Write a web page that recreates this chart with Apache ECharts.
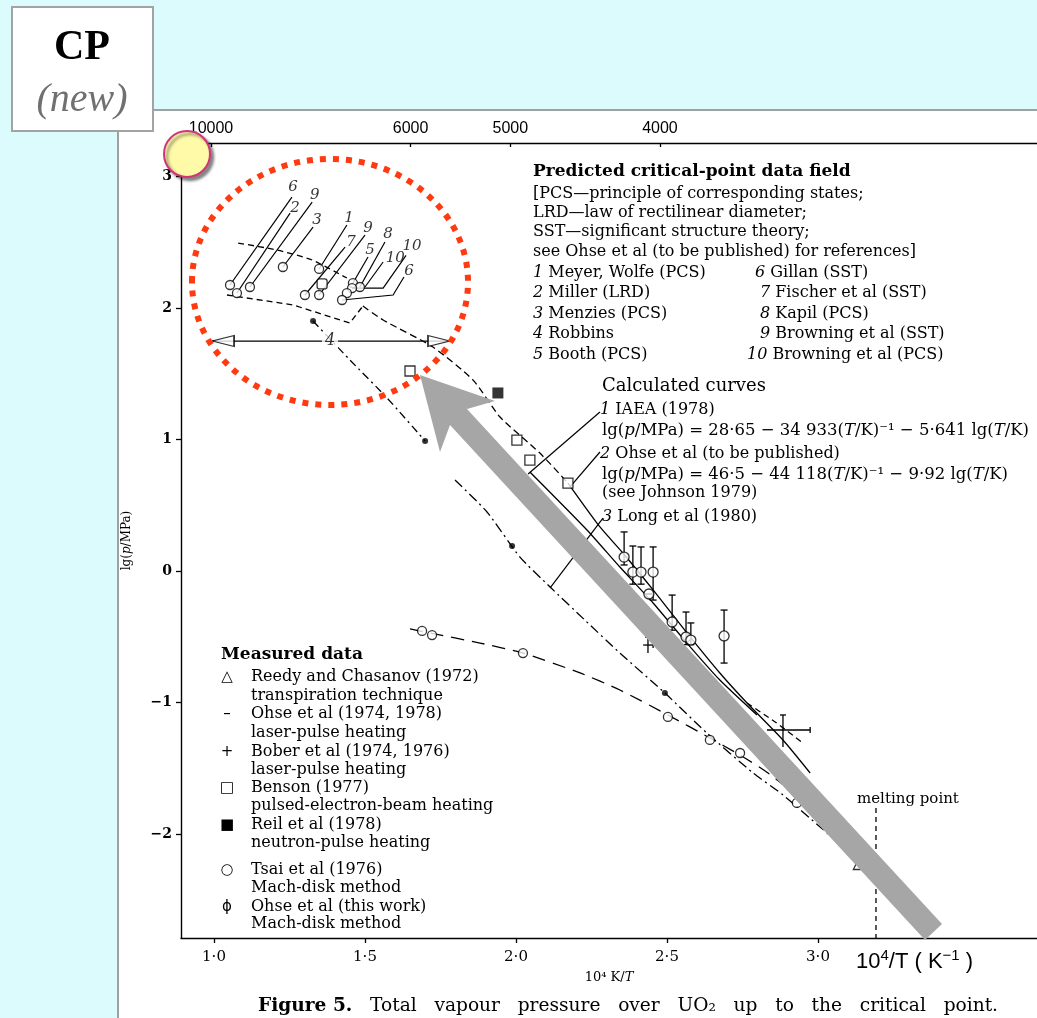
<!DOCTYPE html>
<html><head><meta charset="utf-8">
<script src="https://cdn.jsdelivr.net/npm/echarts@6/dist/echarts.min.js"></script>
<style>html,body{margin:0;padding:0;background:#dcfbfd}#c{width:1037px;height:1018px}</style>
</head><body><div id="c"></div>
<script>
// ---------- axis ticks ----------
const xTicks = [1.0, 1.5, 2.0, 2.5, 3.0];
const yTicks = [-2, -1, 0, 1, 2, 3];
const topTempTicks = [10000, 6000, 5000, 4000];

// ---------- curves (x = 1e4/T, y = lg(p/MPa)) ----------
const critDashUpper = [[1.080,2.494],[1.209,2.441],[1.325,2.365],[1.440,2.228]];
const critDashLower = [[1.043,2.099],[1.262,2.023],[1.450,1.886],[1.493,2.015]];
const curve2Dashed  = [[1.493,2.015],[1.560,1.909],[1.725,1.703],[1.858,1.452],[1.947,1.171],[2.079,0.897],[2.172,0.669]];
const curve1IAEA    = [[2.046,0.753],[2.235,0.312],[2.344,0.030],[2.454,-0.243],[2.566,-0.548],[2.675,-0.829],[2.798,-1.095]];
const curve2Ohse    = [[2.172,0.669],[2.278,0.335],[2.354,0.137],[2.454,-0.144],[2.566,-0.471],[2.675,-0.776],[2.765,-1.004],[2.884,-1.285],[2.974,-1.536]];
const curve2Ext     = [[2.765,-1.004],[2.858,-1.148],[2.950,-1.308]];
const curve3Long    = [[1.798,0.692],[1.904,0.449],[2.013,0.106],[2.113,-0.122],[2.228,-0.373],[2.344,-0.624],[2.493,-0.928],[2.632,-1.232],[2.785,-1.536],[2.884,-1.703],[3.007,-1.947],[3.096,-2.122],[3.139,-2.213]];
const robbinsCurve  = [[1.328,1.901],[1.450,1.605],[1.573,1.316],[1.699,0.989]];
const tsaiCurve     = [[1.649,-0.440],[1.722,-0.475],[1.881,-0.548],[2.023,-0.624],[2.212,-0.775],[2.344,-0.905],[2.503,-1.095],[2.642,-1.270],[2.742,-1.400],[2.831,-1.530],[2.940,-1.730],[3.040,-1.950],[3.132,-2.200]];
const robbinsRange  = [[0.993,1.749],[1.782,1.749]];
const robbinsHeads  = [[1.030,1.749,90],[1.745,1.749,-90]];
const meltingLine   = [[3.192,-1.802],[3.192,-2.791]];

// ---------- predicted critical points ----------
const critCircles = [[1.053,2.175],[1.076,2.114],[1.119,2.160],[1.228,2.312],[1.348,2.297],[1.301,2.099],[1.348,2.099],[1.460,2.190],[1.483,2.160],[1.457,2.152],[1.440,2.114],[1.424,2.061]];
const critSquares = [[1.358,2.183]];
const critLeaders = [
  [[1.053,2.175],[1.258,2.844]],
  [[1.076,2.114],[1.252,2.722]],
  [[1.119,2.160],[1.325,2.806]],
  [[1.228,2.312],[1.328,2.616]],
  [[1.348,2.297],[1.440,2.631]],
  [[1.301,2.099],[1.434,2.464]],
  [[1.348,2.099],[1.500,2.555]],
  [[1.460,2.190],[1.510,2.388]],
  [[1.483,2.160],[1.566,2.502]],
  [[1.500,2.160],[1.560,2.350]],
  [[1.457,2.152],[1.560,2.152],[1.636,2.400]],
  [[1.424,2.061],[1.593,2.099],[1.629,2.236]]
];
const critLabels = [[1.262,2.920,'6'],[1.268,2.760,'2'],[1.334,2.859,'9'],[1.341,2.669,'3'],[1.447,2.684,'1'],[1.454,2.502,'7'],[1.510,2.608,'9'],[1.517,2.441,'5'],[1.576,2.560,'8'],[1.600,2.380,'10'],[1.656,2.471,'10'],[1.646,2.280,'6']];
const robbinsLabel = [[1.384,1.749,'4']];
const curvePointers = [
  [[2.278,1.209],[2.040,0.738]],
  [[2.278,0.905],[2.179,0.639]],
  [[2.288,0.403],[2.113,-0.129]]
];

// ---------- measured data ----------
const bensonPts = [[1.649,1.521],[2.003,0.996],[2.046,0.844],[2.172,0.669]];
const reilPts = [[1.940,1.354]];
const ohseLaserDots = [[1.328,1.901],[1.699,0.989],[1.987,0.190],[2.493,-0.928]];
const tsaiPts = [[1.689,-0.456],[1.722,-0.487],[2.023,-0.624],[2.503,-1.110],[2.642,-1.285],[2.742,-1.384],[2.930,-1.764]];
// [x, y, yLow, yHigh]
const ohseMach = [[2.358,0.106,0.046,0.297],[2.387,-0.008,-0.10,0.190],[2.414,-0.008,-0.10,0.183],[2.454,-0.008,-0.221,0.183],[2.440,-0.175,-0.175,-0.175],[2.517,-0.388,-0.45,-0.183],[2.563,-0.502,-0.56,-0.312],[2.579,-0.525,-0.56,-0.395],[2.689,-0.494,-0.700,-0.297]];
// [x, y, xLow, xHigh, yLow, yHigh]
const boberPts = [[2.437,-0.563,2.421,2.454,-0.624,-0.502],[2.884,-1.209,2.831,2.974,-1.338,-1.095]];
const reedyPts = [[3.132,-2.236]];

// ---------- styles ----------
const SERIF = 'DejaVu Serif';
const BLK = '#000';
function lineS(data, type, smooth) {
  return {type:'line', data, symbol:'none', smooth: smooth||0, silent:true,
    lineStyle:{color:BLK, width:1.3, type: type||'solid'}, z:3};
}
function openSym(data, symbol, size) {
  return {type:'scatter', data, symbol, symbolSize:size, silent:true,
    itemStyle:{color:'#fff', borderColor:BLK, borderWidth:1.3}, z:5};
}
function fillSym(data, symbol, size) {
  return {type:'scatter', data, symbol, symbolSize:size, silent:true, itemStyle:{color:BLK}, z:5};
}
function labelS(data, size, bg) {
  return {type:'scatter', data, symbolSize:1, silent:true, itemStyle:{color:'rgba(0,0,0,0)'}, z:6,
    label:{show:true, position:'inside', formatter:p=>p.data[2], color:BLK, fontFamily:SERIF,
      fontStyle:'italic', fontSize:size, backgroundColor:bg||'transparent', padding:bg?[0,3]:0}};
}

const series = [
  lineS(critDashUpper, [6,4], 0.2),
  lineS(critDashLower, [6,4], 0),
  lineS(curve2Dashed, [7,4], 0.2),
  lineS(curve1IAEA, 'solid', 0.2),
  lineS(curve2Ohse, 'solid', 0.2),
  lineS(curve2Ext, [6,4], 0.2),
  lineS(curve3Long, [10,4,2,4], 0.2),
  lineS(robbinsCurve, [8,4,2,4], 0.2),
  lineS(tsaiCurve, [13,8], 0.2),
  lineS(robbinsRange, 'solid', 0),
  lineS(meltingLine, [5,4], 0),
  {type:'lines', coordinateSystem:'cartesian2d', polyline:true, silent:true, z:3,
    lineStyle:{color:BLK, width:1.2, opacity:1},
    data: critLeaders.map(c=>({coords:c}))},
  {type:'lines', coordinateSystem:'cartesian2d', polyline:true, silent:true, z:3,
    lineStyle:{color:BLK, width:1.2, opacity:1},
    data: curvePointers.map(c=>({coords:c}))},
  {type:'scatter', data: robbinsHeads.map(d=>({value:[d[0],d[1]], symbolRotate:d[2]})), symbol:'triangle',
    symbolSize:[11,22], silent:true, itemStyle:{color:'#fff', borderColor:BLK, borderWidth:1.3}, z:5},
  openSym(critCircles, 'circle', 9),
  openSym(critSquares, 'roundRect', 10),
  openSym(bensonPts, 'rect', 10),
  fillSym(reilPts, 'rect', 11),
  fillSym(ohseLaserDots, 'circle', 6),
  openSym(tsaiPts, 'circle', 9),
  openSym(reedyPts, 'triangle', 9),
  {type:'custom', data: ohseMach, silent:true, z:4, encode:{x:0,y:1},
    renderItem:(params, api)=>{
      const x=api.value(0), lo=api.value(2), hi=api.value(3);
      const a=api.coord([x,lo]), b=api.coord([x,hi]);
      const st={stroke:BLK, lineWidth:1.3};
      return {type:'group', children:[
        {type:'line', shape:{x1:a[0],y1:a[1],x2:b[0],y2:b[1]}, style:st},
        {type:'line', shape:{x1:b[0]-3.5,y1:b[1],x2:b[0]+3.5,y2:b[1]}, style:st},
        {type:'line', shape:{x1:a[0]-3.5,y1:a[1],x2:a[0]+3.5,y2:a[1]}, style:st}
      ]};
    }},
  openSym(ohseMach.map(d=>[d[0],d[1]]), 'circle', 10),
  {type:'custom', data: boberPts, silent:true, z:4, encode:{x:0,y:1},
    renderItem:(params, api)=>{
      const x=api.value(0), y=api.value(1);
      const l=api.coord([api.value(2),y]), r=api.coord([api.value(3),y]);
      const bt=api.coord([x,api.value(4)]), tp=api.coord([x,api.value(5)]);
      const st={stroke:BLK, lineWidth:1.3};
      return {type:'group', children:[
        {type:'line', shape:{x1:l[0],y1:l[1],x2:r[0],y2:r[1]}, style:st},
        {type:'line', shape:{x1:bt[0],y1:bt[1],x2:tp[0],y2:tp[1]}, style:st},
        {type:'line', shape:{x1:r[0],y1:r[1]-3,x2:r[0],y2:r[1]+3}, style:st},
        {type:'line', shape:{x1:tp[0]-3,y1:tp[1],x2:tp[0]+3,y2:tp[1]}, style:st}
      ]};
    }},
  labelS(critLabels, 15),
  labelS(robbinsLabel, 16, '#fff')
];

// ---------- annotation text & slide decorations ----------
const G = [];
function txt(x, y, text, o) {
  o = o || {};
  const fs = o.fontSize || 16, ff = o.fontFamily || SERIF;
  const st = {
    text, fill: o.fill || BLK, fontFamily: ff, fontSize: fs, fontWeight: o.fontWeight || 'normal',
    fontStyle: o.fontStyle || 'normal', align: o.align || 'left', verticalAlign:'middle',
    rich: o.rich || { i:{fontStyle:'italic', fontFamily:ff, fontSize:fs, fill:o.fill||BLK},
           b:{fontWeight:'bold', fontFamily:ff, fontSize:fs, fill:o.fill||BLK} }
  };
  if (o.lineHeight) st.lineHeight = o.lineHeight;
  G.push({type:'text', x, y, z: o.z || 50, silent:true, style: st});
}
// slide background panel
G.push({type:'rect', z:-10, silent:true, shape:{x:118,y:110,width:919,height:908}, style:{fill:'#fff'}});
G.push({type:'line', z:-9, silent:true, shape:{x1:118,y1:110,x2:118,y2:1018}, style:{stroke:'#a0a0a0', lineWidth:2}});
G.push({type:'line', z:-9, silent:true, shape:{x1:118,y1:110,x2:1037,y2:110}, style:{stroke:'#a0a0a0', lineWidth:2}});
// CP box
G.push({type:'rect', z:60, silent:true, shape:{x:12,y:7,width:141,height:124}, style:{fill:'#fff', stroke:'#a3a3a3', lineWidth:2}});
txt(82, 48, 'CP', {fontFamily:'Liberation Serif', fontSize:42, fontWeight:'bold', align:'center', z:61});
txt(82, 100, '(new)', {fontFamily:'Liberation Serif', fontSize:40, fontStyle:'italic', fill:'#707070', align:'center', z:61});

// predicted critical-point block
txt(533, 172, 'Predicted critical-point data field', {fontWeight:'bold', fontSize:17});
txt(533, 194, '[PCS—principle of corresponding states;');
txt(533, 213, 'LRD—law of rectilinear diameter;');
txt(533, 232, 'SST—significant structure theory;');
txt(533, 252, 'see Ohse et al (to be published) for references]');
txt(533, 273, '{i|1} Meyer, Wolfe (PCS)');
txt(533, 293, '{i|2} Miller (LRD)');
txt(533, 314, '{i|3} Menzies (PCS)');
txt(533, 334, '{i|4} Robbins');
txt(533, 355, '{i|5} Booth (PCS)');
txt(755, 273, '{i|6} Gillan (SST)');
txt(760, 293, '{i|7} Fischer et al (SST)');
txt(760, 314, '{i|8} Kapil (PCS)');
txt(760, 334, '{i|9} Browning et al (SST)');
txt(747, 355, '{i|10} Browning et al (PCS)');

// calculated curves block
txt(602, 386, 'Calculated curves', {fontSize:18});
txt(600, 410, '{i|1} IAEA (1978)');
txt(602, 431, 'lg({i|p}/MPa) = 28·65 − 34 933({i|T}/K)⁻¹ − 5·641 lg({i|T}/K)', {fontSize:16.5});
txt(600, 454, '{i|2} Ohse et al (to be published)');
txt(602, 475, 'lg({i|p}/MPa) = 46·5 − 44 118({i|T}/K)⁻¹ − 9·92 lg({i|T}/K)', {fontSize:16.5});
txt(602, 493, '(see Johnson 1979)');
txt(602, 517, '{i|3} Long et al (1980)');

// measured data block
txt(221, 655, 'Measured data', {fontWeight:'bold', fontSize:17});
const legRows = [
  [677,'△','Reedy and Chasanov (1972)'],[696,'','transpiration technique'],
  [714,'–','Ohse et al (1974, 1978)'],[733,'','laser-pulse heating'],
  [752,'+','Bober et al (1974, 1976)'],[770,'','laser-pulse heating'],
  [788,'□','Benson (1977)'],[806,'','pulsed-electron-beam heating'],
  [825,'■','Reil et al (1978)'],[843,'','neutron-pulse heating'],
  [870,'○','Tsai et al (1976)'],[888,'','Mach-disk method'],
  [907,'ϕ','Ohse et al (this work)'],[924,'','Mach-disk method']
];
legRows.forEach(r=>{
  if (r[1]) txt(227, r[0], r[1], {fontFamily:'DejaVu Sans', fontSize:15, align:'center'});
  txt(251, r[0], r[2]);
});

txt(857, 799, 'melting point', {fontSize:15});
txt(856, 962, '10{s|4}/T ( K{s|−1} )', {fontFamily:'Liberation Sans', fontSize:22, lineHeight:28,
  rich:{s:{fontFamily:'Liberation Sans', fontSize:15, lineHeight:15, verticalAlign:'top', fill:BLK}}});
txt(258, 1006, '{b|Figure 5.}   Total   vapour   pressure   over   UO₂   up   to   the   critical   point.', {fontSize:18.6});

// overlays: dotted red ellipse, gray arrow, yellow marker
G.push({type:'polygon', z:95, silent:true,
  shape:{points:[[420,375],[495,401],[467,409],[942,924],[925,940],[450,425],[440,452]]},
  style:{fill:'#a6a6a6'}});
G.push({type:'ellipse', z:96, silent:true, shape:{cx:330, cy:282, rx:138, ry:123},
  style:{fill:'none', stroke:'#ff3a10', lineWidth:6, lineDash:[6,7]}});
G.push({type:'circle', z:97, silent:true, shape:{cx:187, cy:154, r:23},
  style:{fill:'#fffaa8', stroke:'#d0357a', lineWidth:2, shadowBlur:3, shadowOffsetX:3, shadowOffsetY:3, shadowColor:'rgba(0,0,0,0.45)'}});

const option = {
  animation:false,
  backgroundColor:'#dcfbfd',
  grid:{left:181, top:143, right:0, bottom:80},
  xAxis:[{
    type:'value', min:0.8907, max:3.7252, position:'bottom',
    axisLine:{onZero:false, lineStyle:{color:BLK, width:1.4}},
    axisTick:{show:true, inside:false, length:5, customValues:xTicks, lineStyle:{color:BLK, width:1.3}},
    axisLabel:{customValues:xTicks, formatter:v=>v.toFixed(1).replace('.','·'), color:BLK, fontFamily:SERIF, fontSize:15, margin:12},
    splitLine:{show:false},
    name:'10⁴ K/{i|T}', nameLocation:'middle', nameGap:33,
    nameTextStyle:{color:BLK, fontFamily:SERIF, fontSize:13, rich:{i:{fontStyle:'italic', fontFamily:SERIF, fontSize:13, color:BLK}}}
  },{
    type:'value', min:0.8998, max:3.7597, position:'top',
    axisLine:{onZero:false, lineStyle:{color:BLK, width:1.4}},
    axisTick:{show:true, inside:true, length:4, customValues:topTempTicks.map(t=>1e4/t), lineStyle:{color:BLK, width:1.3}},
    axisLabel:{customValues:topTempTicks.map(t=>1e4/t), formatter:v=>String(Math.round(1e4/v/10)*10), color:BLK, fontFamily:'Liberation Sans', fontSize:16, margin:6},
    splitLine:{show:false}
  }],
  yAxis:{
    type:'value', min:-2.791, max:3.255,
    axisLine:{onZero:false, lineStyle:{color:BLK, width:1.4}},
    axisTick:{show:true, inside:false, length:5, customValues:yTicks, lineStyle:{color:BLK, width:1.3}},
    axisLabel:{customValues:yTicks, formatter:v=>v<0?'−'+Math.abs(v):String(v), color:BLK, fontFamily:SERIF, fontWeight:'bold', fontSize:14, margin:9},
    splitLine:{show:false},
    name:'lg({i|p}/MPa)', nameLocation:'middle', nameGap:48,
    nameTextStyle:{color:BLK, fontFamily:SERIF, fontSize:12, rich:{i:{fontStyle:'italic', fontFamily:SERIF, fontSize:12, color:BLK}}}
  },
  graphic: G,
  series
};
const chart = echarts.init(document.getElementById('c'), null, {renderer:'canvas'});
chart.setOption(option);
</script></body></html>
